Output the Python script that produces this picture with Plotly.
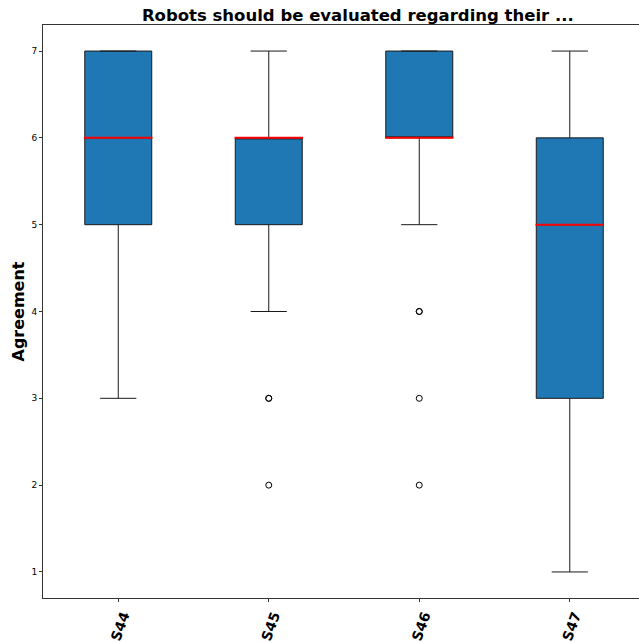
import plotly.graph_objects as go

categories = ["S44", "S45", "S46", "S47"]
q1 = [5, 5, 6, 3]
median = [6, 6, 6, 5]
q3 = [7, 6, 7, 6]
lower_whisker = [3, 4, 5, 1]
upper_whisker = [7, 7, 7, 7]
outliers = [[], [3, 3, 2], [4, 4, 3, 2], []]

positions = [1, 2, 3, 4]
box_w = 0.445

fig = go.Figure()
for i, cat in enumerate(categories):
    fig.add_trace(go.Box(
        x=[positions[i]], q1=[q1[i]], median=[median[i]], q3=[q3[i]],
        lowerfence=[lower_whisker[i]], upperfence=[upper_whisker[i]],
        width=box_w, whiskerwidth=0.54,
        fillcolor="#1f77b4", line=dict(color="#1a1a1a", width=1),
        boxpoints=False, showlegend=False, name=cat,
    ))
    # red median line
    fig.add_trace(go.Scatter(
        x=[positions[i] - box_w / 2 - 0.005, positions[i] + box_w / 2 + 0.005],
        y=[median[i], median[i]], mode="lines",
        line=dict(color="red", width=2), showlegend=False, hoverinfo="skip",
    ))
    if outliers[i]:
        fig.add_trace(go.Scatter(
            x=[positions[i]] * len(outliers[i]), y=outliers[i], mode="markers",
            marker=dict(symbol="circle-open", size=6, color="black", line=dict(width=1)),
            showlegend=False,
        ))

fig.update_layout(
    width=639, height=642,
    margin=dict(l=43, r=0, t=25, b=44, autoexpand=False),
    plot_bgcolor="white", paper_bgcolor="white",
    font=dict(family="DejaVu Sans", color="black"),
    title=dict(text="<b>Robots should be evaluated regarding their ...</b>",
               x=0.56, xanchor="center", y=0.977, yanchor="middle",
               font=dict(size=16.5, family="DejaVu Sans")),
)
fig.update_xaxes(
    range=[0.5, 4.46], tickvals=positions,
    ticktext=["<b>%s</b>" % c for c in categories],
    tickangle=-70, tickfont=dict(size=14, family="DejaVu Sans"),
    ticklabelshift=5,
    showline=True, linecolor="#333", linewidth=1, mirror=True, automargin=False,
    ticks="outside", ticklen=3, tickcolor="#333", showgrid=False, zeroline=False,
)
fig.update_yaxes(
    range=[0.7, 7.3], tickvals=[1, 2, 3, 4, 5, 6, 7],
    tickfont=dict(size=9, family="DejaVu Sans"),
    showline=True, linecolor="#333", linewidth=1, mirror=False, automargin=False,
    ticks="outside", ticklen=3, tickcolor="#333", showgrid=False, zeroline=False,
    title=dict(text="<b>Agreement</b>", font=dict(size=16, family="DejaVu Sans"), standoff=2),
)

fig.write_html(
    "out.html",
    config={"displayModeBar": False},
    post_script="document.body.style.margin='0';document.body.style.overflow='hidden';",
)
